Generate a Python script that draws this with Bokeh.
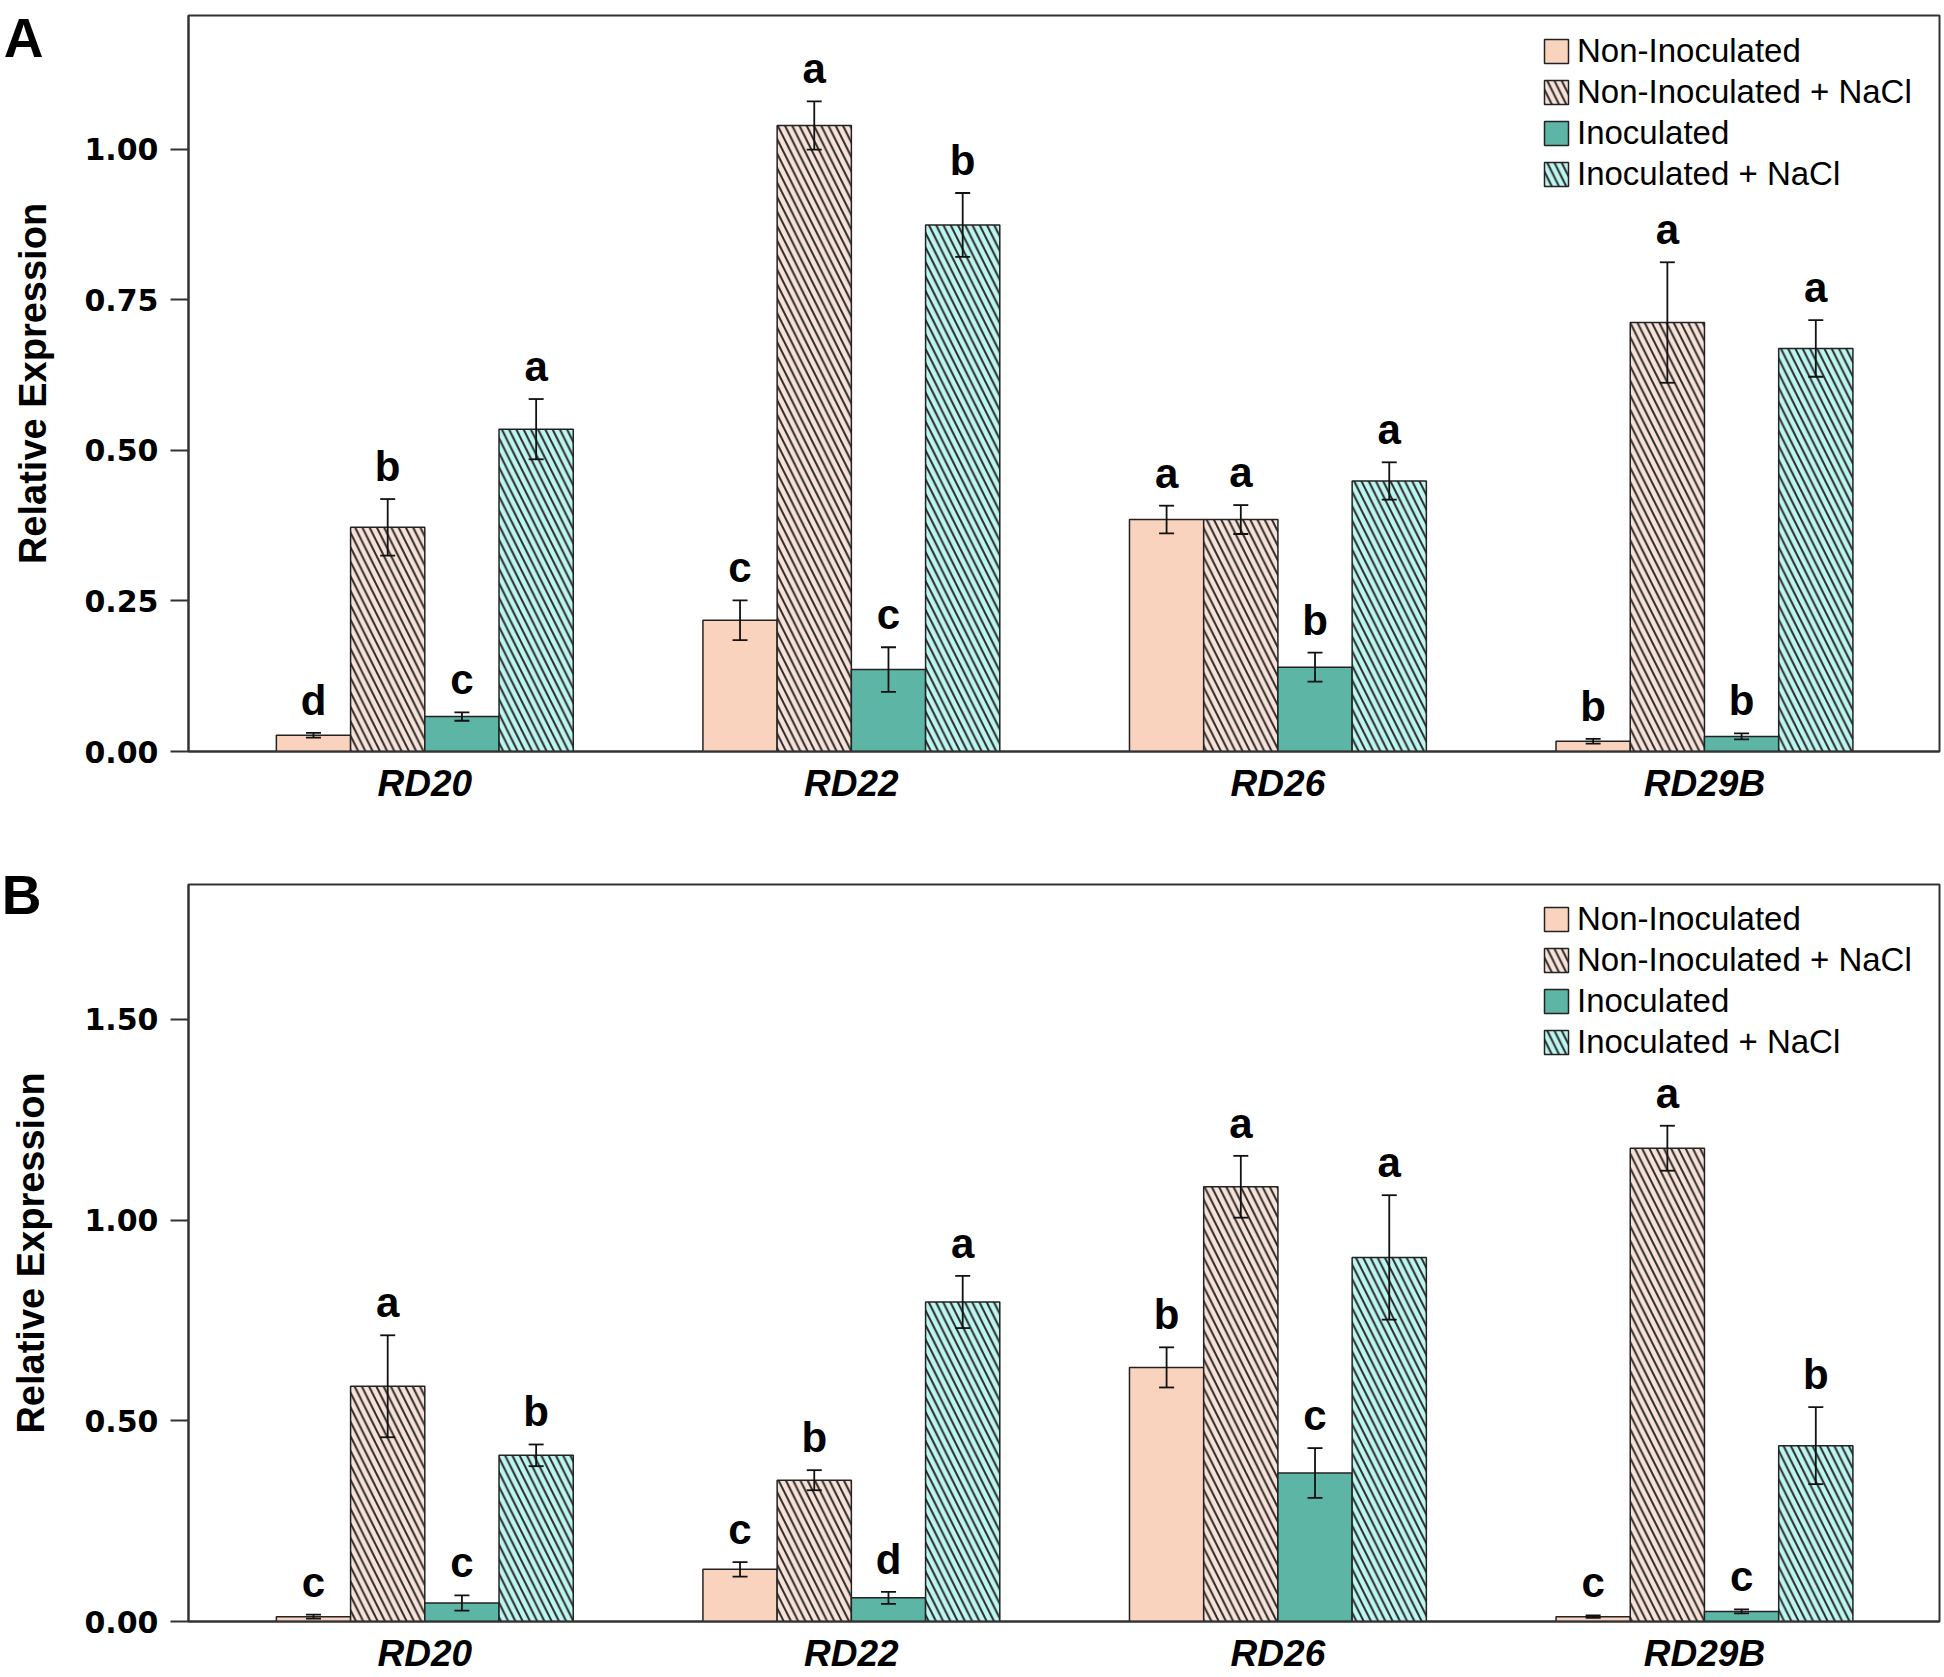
import numpy as np
from bokeh.plotting import figure
from bokeh.models import (ColumnDataSource, Whisker, TeeHead, FixedTicker, NumeralTickFormatter,
                          LinearAxis)
from bokeh.layouts import column
from bokeh.embed import file_html
from bokeh.resources import INLINE
from bokeh.core.properties import value

genes = ["RD20", "RD22", "RD26", "RD29B"]
series_names = ["Non-Inoculated", "Non-Inoculated + NaCl", "Inoculated", "Inoculated + NaCl"]

# Panel A
A_non = [0.027, 0.218, 0.385, 0.017]
A_non_err = [0.004, 0.033, 0.023, 0.004]
A_non_nacl = [0.372, 1.039, 0.385, 0.712]
A_non_nacl_err = [0.047, 0.040, 0.024, 0.100]
A_ino = [0.058, 0.136, 0.140, 0.025]
A_ino_err = [0.007, 0.037, 0.024, 0.005]
A_ino_nacl = [0.535, 0.874, 0.449, 0.669]
A_ino_nacl_err = [0.050, 0.053, 0.031, 0.047]
A_letters_non = ["d", "c", "a", "b"]
A_letters_non_nacl = ["b", "a", "a", "a"]
A_letters_ino = ["c", "c", "b", "b"]
A_letters_ino_nacl = ["a", "b", "a", "a"]
A_ticks = [0.0, 0.25, 0.5, 0.75, 1.0]

# Panel B
B_non = [0.012, 0.130, 0.633, 0.012]
B_non_err = [0.005, 0.018, 0.050, 0.003]
B_non_nacl = [0.586, 0.352, 1.083, 1.179]
B_non_nacl_err = [0.127, 0.025, 0.077, 0.056]
B_ino = [0.046, 0.059, 0.370, 0.025]
B_ino_err = [0.019, 0.015, 0.062, 0.005]
B_ino_nacl = [0.414, 0.796, 0.907, 0.438]
B_ino_nacl_err = [0.027, 0.065, 0.155, 0.096]
B_letters_non = ["c", "c", "b", "c"]
B_letters_non_nacl = ["a", "b", "a", "a"]
B_letters_ino = ["c", "d", "c", "c"]
B_letters_ino_nacl = ["b", "a", "a", "b"]
B_ticks = [0.0, 0.5, 1.0, 1.5]

fills = ["#F9D3BE", "#F8E2D8", "#5DB5A5", "#BDF5F0"]
hatches = [None, "\\", None, "\\"]
W = 0.174
X0, X1 = 0.446, 4.551
FONT = "Liberation Sans"


def make_panel(tag, tag_y, tag_standoff, legend_vy, means, errs, letters, ymax, ticks,
               height, btop, bbottom):
    p = figure(width=1944, height=height, x_range=(X0, X1), y_range=(0, ymax),
               output_backend="svg", toolbar_location=None,
               min_border_left=188, min_border_right=5, min_border_top=btop,
               min_border_bottom=bbottom)
    p.background_fill_color = "white"
    p.border_fill_color = "white"
    p.outline_line_color = "#333333"
    p.outline_line_width = 2
    p.xgrid.visible = False
    p.ygrid.visible = False
    xc = np.arange(1, len(genes) + 1)
    for i in range(4):
        m = np.array(means[i])
        e = np.array(errs[i])
        src = ColumnDataSource(dict(x=xc + (i - 1.5) * W, top=m, upper=m + e, lower=m - e,
                                    lab=letters[i]))
        kw = {}
        if hatches[i]:
            kw = dict(hatch_pattern=hatches[i], hatch_color="#2a2a2a", hatch_scale=14.5,
                      hatch_weight=2.0)
        p.vbar(x="x", top="top", bottom=0, width=W, source=src, fill_color=fills[i],
               line_color="#222222", line_width=1.5, legend_label=series_names[i], **kw)
        wh = Whisker(source=src, base="x", upper="upper", lower="lower",
                     line_color="#111111", line_width=1.8, level="annotation",
                     upper_head=TeeHead(size=15, line_width=1.8, line_color="#111111"),
                     lower_head=TeeHead(size=15, line_width=1.8, line_color="#111111"))
        p.add_layout(wh)
        p.text(x="x", y="upper", text="lab", source=src, text_align="center",
               text_baseline="bottom", y_offset=-9, text_font=value(FONT),
               text_font_style="bold", text_font_size="42px", text_color="black")

    # x axis
    xa = p.xaxis[0]
    xa.ticker = FixedTicker(ticks=list(xc))
    xa.major_label_overrides = {int(k): g for k, g in zip(xc, genes)}
    xa.major_tick_out = 0
    xa.major_tick_in = 0
    xa.minor_tick_out = 0
    xa.minor_tick_in = 0
    xa.axis_line_color = "#333333"
    xa.axis_line_width = 2
    xa.major_label_standoff = 11
    xa.major_label_text_font = FONT
    xa.major_label_text_font_style = "bold italic"
    xa.major_label_text_font_size = "37px"
    xa.major_label_text_color = "black"

    # main y axis (ticks + tick labels)
    ya = p.yaxis[0]
    ya.ticker = FixedTicker(ticks=ticks)
    ya.formatter = NumeralTickFormatter(format="0.00")
    ya.major_tick_out = 18
    ya.major_tick_in = 0
    ya.minor_tick_out = 0
    ya.minor_tick_in = 0
    ya.major_tick_line_width = 2
    ya.major_tick_line_color = "#333333"
    ya.axis_line_color = "#333333"
    ya.axis_line_width = 2
    ya.major_label_standoff = 12
    ya.major_label_text_font = "DejaVu Sans"
    ya.major_label_text_font_style = "bold"
    ya.major_label_text_font_size = "30px"
    ya.major_label_text_color = "black"

    # outer left axis: carries the panel tag and the y-axis title
    tag_axis = LinearAxis(
        ticker=FixedTicker(ticks=[tag_y]), major_label_overrides={tag_y: tag},
        axis_line_color=None, major_tick_line_color=None, minor_tick_line_color=None,
        major_tick_out=0, major_tick_in=0, minor_tick_out=0, minor_tick_in=0,
        major_label_standoff=tag_standoff, major_label_text_font=FONT,
        major_label_text_font_style="bold", major_label_text_font_size="55px",
        major_label_text_color="black",
        axis_label="Relative Expression", axis_label_standoff=-53,
        axis_label_text_font=FONT, axis_label_text_font_style="bold",
        axis_label_text_font_size="38px", axis_label_text_color="black")
    p.add_layout(tag_axis, "left")

    lg = p.legend[0]
    lg.location = (1352, legend_vy)
    lg.padding = 1
    lg.spacing = 3
    lg.glyph_width = 30
    lg.glyph_height = 30
    lg.label_standoff = 6
    lg.label_text_font = FONT
    lg.label_text_font_size = "33px"
    lg.label_text_color = "black"
    lg.border_line_alpha = 0
    lg.background_fill_alpha = 0
    return p


pA = make_panel("A", 1.2058, 38, 557, [A_non, A_non_nacl, A_ino, A_ino_nacl],
                [A_non_err, A_non_nacl_err, A_ino_err, A_ino_nacl_err],
                [A_letters_non, A_letters_non_nacl, A_letters_ino, A_letters_ino_nacl],
                1.2216, A_ticks, 860, 15, 109)
pB = make_panel("B", 1.8086, 40, 559, [B_non, B_non_nacl, B_ino, B_ino_nacl],
                [B_non_err, B_non_nacl_err, B_ino_err, B_ino_nacl_err],
                [B_letters_non, B_letters_non_nacl, B_letters_ino, B_letters_ino_nacl],
                1.836, B_ticks, 816, 24, 54)

layout = column(pA, pB, spacing=0)
open("out.html", "w").write(file_html(layout, INLINE))
